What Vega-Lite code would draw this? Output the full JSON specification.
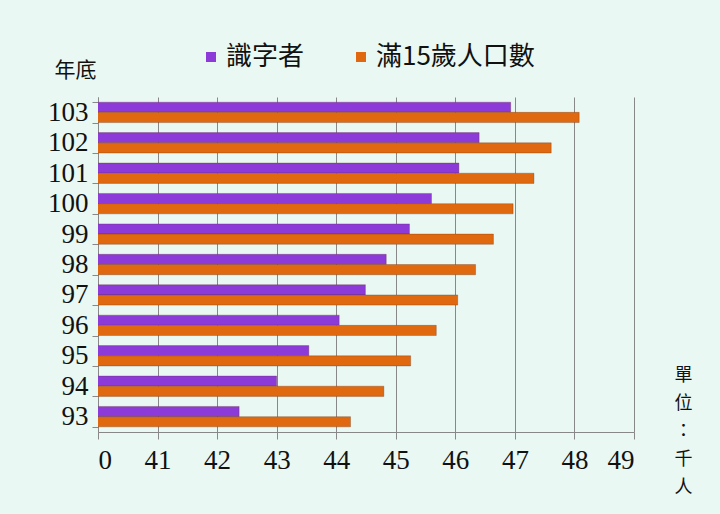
{
  "$schema": "https://vega.github.io/schema/vega-lite/v6.json",
  "width": 536,
  "height": 335,
  "autosize": {"type": "none"},
  "padding": {"left": 98, "top": 97, "right": 86, "bottom": 82},
  "background": "#e9f8f2",
  "data": {"values": [
    {"year": 103, "series": "識字者", "value": 46.93},
    {"year": 103, "series": "滿15歲人口數", "value": 48.08},
    {"year": 102, "series": "識字者", "value": 46.40},
    {"year": 102, "series": "滿15歲人口數", "value": 47.61},
    {"year": 101, "series": "識字者", "value": 46.06},
    {"year": 101, "series": "滿15歲人口數", "value": 47.32},
    {"year": 100, "series": "識字者", "value": 45.60},
    {"year": 100, "series": "滿15歲人口數", "value": 46.97},
    {"year": 99, "series": "識字者", "value": 45.23},
    {"year": 99, "series": "滿15歲人口數", "value": 46.64},
    {"year": 98, "series": "識字者", "value": 44.84},
    {"year": 98, "series": "滿15歲人口數", "value": 46.34},
    {"year": 97, "series": "識字者", "value": 44.49},
    {"year": 97, "series": "滿15歲人口數", "value": 46.04},
    {"year": 96, "series": "識字者", "value": 44.05},
    {"year": 96, "series": "滿15歲人口數", "value": 45.68},
    {"year": 95, "series": "識字者", "value": 43.54},
    {"year": 95, "series": "滿15歲人口數", "value": 45.25},
    {"year": 94, "series": "識字者", "value": 43.00},
    {"year": 94, "series": "滿15歲人口數", "value": 44.80},
    {"year": 93, "series": "識字者", "value": 42.37},
    {"year": 93, "series": "滿15歲人口數", "value": 44.24}
  ]},
  "mark": {"type": "bar", "clip": true, "stroke": "#5a3020", "strokeWidth": 0.5, "strokeOpacity": 0.6},
  "encoding": {
    "y": {
      "field": "year", "type": "ordinal", "sort": "descending",
      "scale": {"paddingInner": 0.33, "paddingOuter": 0.17},
      "axis": {
        "title": "年底", "titleAngle": 0, "titleX": -23, "titleY": -27,
        "titleAlign": "center", "titleBaseline": "middle",
        "titleFont": "Noto Sans CJK TC", "titleFontSize": 21, "titleFontWeight": "normal", "titleColor": "#111",
        "labelFont": "Liberation Serif", "labelFontSize": 27, "labelColor": "#111", "labelPadding": 4,
        "tickBand": "extent", "tickSize": 6, "tickColor": "#888", "domainColor": "#888", "grid": false
      }
    },
    "x": {
      "field": "value", "type": "quantitative",
      "scale": {"domain": [40, 49], "zero": false, "nice": false},
      "axis": {
        "values": [40, 41, 42, 43, 44, 45, 46, 47, 48, 49],
        "labelExpr": "datum.value == 40 ? '0' : datum.label",
        "labelFont": "Liberation Serif", "labelFontSize": 27, "labelColor": "#111", "labelPadding": 8,
        "tickSize": 7, "tickColor": "#888", "domainColor": "#888",
        "grid": true, "gridColor": "#888", "gridWidth": 1,
        "title": ["單", "位", "：", "千", "人"], "titleX": 585, "titleY": -66,
        "titleAlign": "center", "titleBaseline": "top", "titleLineHeight": 28,
        "titleFont": "Noto Sans CJK TC", "titleFontSize": 18, "titleFontWeight": "normal", "titleColor": "#111"
      }
    },
    "yOffset": {"field": "series", "type": "nominal", "sort": ["識字者", "滿15歲人口數"]},
    "color": {
      "field": "series", "type": "nominal",
      "scale": {"domain": ["識字者", "滿15歲人口數"], "range": ["#8c3ad8", "#e0680e"]},
      "legend": {
        "title": null, "orient": "none", "direction": "horizontal",
        "legendX": 100, "legendY": -53,
        "symbolType": "square", "symbolSize": 100, "symbolStrokeWidth": 0,
        "labelFont": "Noto Sans CJK TC", "labelFontSize": 26, "labelColor": "#111",
        "labelOffset": 2, "columnPadding": 43
      }
    }
  },
  "config": {"view": {"stroke": null}}
}
